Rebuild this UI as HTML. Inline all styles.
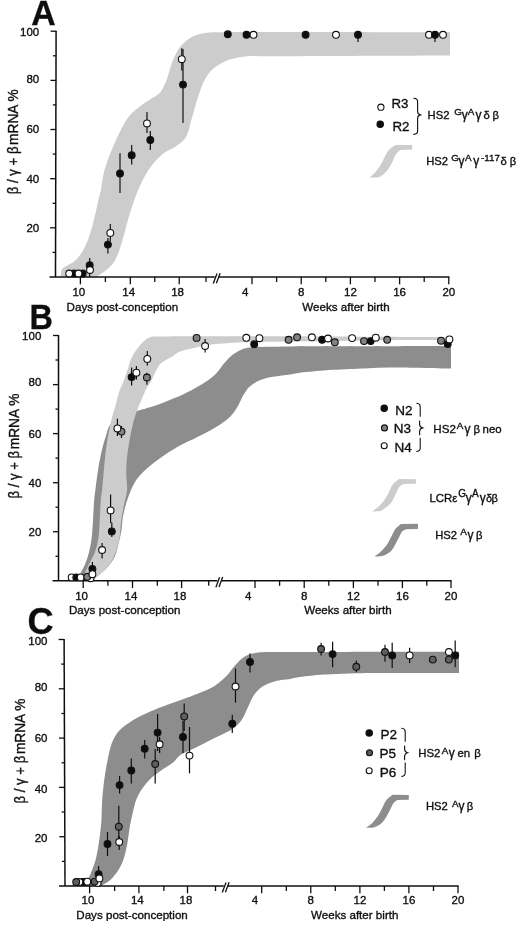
<!DOCTYPE html>
<html lang="en"><head><meta charset="utf-8"><title>Figure</title>
<style>
html,body{margin:0;padding:0;background:#fff;}
body{width:520px;height:926px;overflow:hidden;}
svg{display:block;}
svg text{font-family:"Liberation Sans",Arial,Helvetica,sans-serif;fill:#111;stroke:#111;stroke-width:0.35px;}
</style></head><body>
<svg width="520" height="926" viewBox="0 0 520 926">
<defs><filter id="soft" x="0" y="0" width="520" height="926" filterUnits="userSpaceOnUse"><feGaussianBlur stdDeviation="0.42"/></filter></defs>
<rect width="520" height="926" fill="#fff"/>
<g filter="url(#soft)">
<path d="M60.6 276.8 C60.8 275.6 60.8 271.3 61.9 269.4 C63.0 267.5 65.5 266.8 67.3 265.6 C69.1 264.4 72.8 262.7 75.0 260.8 C77.2 258.9 79.1 256.5 80.8 254.0 C82.5 251.5 84.2 248.4 85.6 245.4 C87.0 242.4 88.3 239.0 89.4 235.8 C90.5 232.6 91.4 229.4 92.3 226.2 C93.2 223.0 94.3 218.5 95.2 214.6 C96.1 210.7 97.2 205.1 98.1 201.2 C99.0 197.3 100.2 193.5 101.0 189.6 C101.8 185.7 102.7 176.7 104.4 170.4 C106.1 164.1 108.6 157.5 111.2 151.2 C113.8 144.9 118.0 135.4 120.8 130.0 C123.6 124.6 127.2 118.4 130.4 114.6 C133.6 110.8 138.2 107.8 141.9 105.0 C145.6 102.2 151.1 99.0 153.5 97.3 C155.9 95.6 158.8 94.3 160.6 91.9 C162.4 89.5 165.2 83.6 166.9 79.2 C168.6 74.8 170.1 67.4 172.2 62.3 C174.3 57.2 176.8 51.3 179.6 47.5 C182.4 43.7 187.0 40.1 190.2 38.0 C193.4 35.9 197.1 34.7 200.8 33.8 C204.5 32.9 209.2 32.4 213.5 32.3 C217.8 32.2 244.5 32.0 260.0 32.0 C275.5 32.0 418.3 32.2 450.0 32.2 L450.0 55.4 C418.3 55.5 264.9 56.2 260.0 56.2 C255.1 56.2 250.1 55.9 245.2 56.4 C240.3 56.9 234.9 57.8 230.4 59.3 C225.9 60.8 220.9 63.5 217.7 65.5 C214.5 67.5 211.6 70.0 209.2 72.9 C206.8 75.8 204.6 79.8 202.9 83.5 C201.2 87.2 199.2 93.4 197.6 98.3 C196.0 103.2 194.4 109.7 193.4 113.1 C192.4 116.5 191.1 120.8 190.4 123.3 C189.7 125.8 189.4 128.5 188.5 131.0 C187.6 133.5 186.3 137.2 184.2 139.6 C182.1 142.0 177.9 145.1 174.6 147.3 C171.3 149.5 167.2 150.6 164.0 153.0 C160.8 155.4 156.4 159.6 153.3 163.5 C150.2 167.4 146.3 173.2 143.5 178.5 C140.7 183.8 138.0 190.1 135.8 195.8 C133.6 201.5 131.8 207.4 130.0 213.1 C128.2 218.8 126.2 226.7 125.2 230.4 C124.2 234.1 123.2 237.8 122.1 241.5 C121.0 245.2 119.7 249.7 118.3 253.0 C116.9 256.3 115.6 259.8 113.5 262.7 C111.4 265.6 108.6 268.1 105.8 270.4 C103.0 272.7 97.8 275.7 96.2 276.8 Z" fill="#cccccc"/>
<path d="M56.1 30.7 L55.5 277.0" stroke="#111" stroke-width="1.5" fill="none"/>
<path d="M49.5 277.0 H449.4" stroke="#111" stroke-width="1.5" fill="none"/>
<path d="M52.6 252.4 H55.6" stroke="#111" stroke-width="1.3"/>
<path d="M50.1 227.8 H55.6" stroke="#111" stroke-width="1.3"/>
<text x="39.2" y="232.1" font-size="11.5" text-anchor="end" font-weight="normal" >20</text>
<path d="M52.7 203.3 H55.7" stroke="#111" stroke-width="1.3"/>
<path d="M50.2 178.7 H55.7" stroke="#111" stroke-width="1.3"/>
<text x="39.2" y="182.8" font-size="11.5" text-anchor="end" font-weight="normal" >40</text>
<path d="M52.8 154.1 H55.8" stroke="#111" stroke-width="1.3"/>
<path d="M50.4 129.5 H55.9" stroke="#111" stroke-width="1.3"/>
<text x="39.2" y="133.2" font-size="11.5" text-anchor="end" font-weight="normal" >60</text>
<path d="M52.9 104.9 H55.9" stroke="#111" stroke-width="1.3"/>
<path d="M50.5 80.4 H56.0" stroke="#111" stroke-width="1.3"/>
<text x="39.2" y="82.6" font-size="11.5" text-anchor="end" font-weight="normal" >80</text>
<path d="M53.0 55.8 H56.0" stroke="#111" stroke-width="1.3"/>
<path d="M50.6 31.2 H56.1" stroke="#111" stroke-width="1.3"/>
<text x="39.2" y="35.8" font-size="11.5" text-anchor="end" font-weight="normal" >100</text>
<path d="M80.4 277.0 V284.3" stroke="#111" stroke-width="1.3"/>
<text x="78.8" y="295.8" font-size="11.5" text-anchor="middle" font-weight="normal" >10</text>
<path d="M105.4 277.0 V282.0" stroke="#111" stroke-width="1.3"/>
<path d="M130.3 277.0 V284.3" stroke="#111" stroke-width="1.3"/>
<text x="128.7" y="295.8" font-size="11.5" text-anchor="middle" font-weight="normal" >14</text>
<path d="M154.8 277.0 V282.0" stroke="#111" stroke-width="1.3"/>
<path d="M179.2 277.0 V284.3" stroke="#111" stroke-width="1.3"/>
<text x="177.6" y="295.8" font-size="11.5" text-anchor="middle" font-weight="normal" >18</text>
<path d="M206.0 277.0 V282.0" stroke="#111" stroke-width="1.3"/>
<path d="M252.0 277.0 V284.3" stroke="#111" stroke-width="1.3"/>
<text x="245.3" y="295.8" font-size="11.5" text-anchor="middle" font-weight="normal" >4</text>
<path d="M276.6 277.0 V282.0" stroke="#111" stroke-width="1.3"/>
<path d="M301.2 277.0 V284.3" stroke="#111" stroke-width="1.3"/>
<text x="301.2" y="295.8" font-size="11.5" text-anchor="middle" font-weight="normal" >8</text>
<path d="M325.8 277.0 V282.0" stroke="#111" stroke-width="1.3"/>
<path d="M350.4 277.0 V284.3" stroke="#111" stroke-width="1.3"/>
<text x="350.4" y="295.8" font-size="11.5" text-anchor="middle" font-weight="normal" >12</text>
<path d="M375.0 277.0 V282.0" stroke="#111" stroke-width="1.3"/>
<path d="M399.6 277.0 V284.3" stroke="#111" stroke-width="1.3"/>
<text x="399.6" y="295.8" font-size="11.5" text-anchor="middle" font-weight="normal" >16</text>
<path d="M424.2 277.0 V282.0" stroke="#111" stroke-width="1.3"/>
<path d="M448.8 277.0 V284.3" stroke="#111" stroke-width="1.3"/>
<text x="448.8" y="295.8" font-size="11.5" text-anchor="middle" font-weight="normal" >20</text>
<rect x="214.8" y="275.5" width="4" height="3" fill="#fff"/>
<path d="M213.3 283.4 l3.7 -9.9 M216.4 283.2 l3.7 -9.9" stroke="#111" stroke-width="1.3" fill="none"/>
<text x="66.6" y="310.9" font-size="11.6" text-anchor="start" font-weight="normal" >Days post-conception</text>
<text x="302.3" y="310.9" font-size="11.6" text-anchor="start" font-weight="normal" >Weeks after birth</text>
<text transform="translate(31.3 24.8) scale(0.940 1)" font-size="36" font-weight="bold" stroke-width="0">A</text>
<text transform="translate(17.6 194.3) rotate(-90) scale(1 1.06)" font-size="13.7"><tspan font-size="13.2">β / γ + β</tspan><tspan dx="-2.2"> mRNA %</tspan></text>
<line x1="89.7" y1="258.0" x2="89.7" y2="277.0" stroke="#111" stroke-width="1.2"/>
<line x1="107.9" y1="238.0" x2="107.9" y2="253.5" stroke="#111" stroke-width="1.2"/>
<line x1="110.3" y1="224.0" x2="110.3" y2="241.0" stroke="#111" stroke-width="1.2"/>
<line x1="120.0" y1="153.3" x2="120.0" y2="192.9" stroke="#111" stroke-width="1.2"/>
<line x1="131.7" y1="145.0" x2="131.7" y2="164.6" stroke="#111" stroke-width="1.2"/>
<line x1="147.0" y1="112.0" x2="147.0" y2="133.0" stroke="#111" stroke-width="1.2"/>
<line x1="150.3" y1="131.0" x2="150.3" y2="150.0" stroke="#111" stroke-width="1.2"/>
<line x1="181.8" y1="48.3" x2="181.8" y2="70.5" stroke="#111" stroke-width="1.2"/>
<line x1="183.0" y1="49.0" x2="183.0" y2="123.0" stroke="#111" stroke-width="1.2"/>
<line x1="358.0" y1="34.0" x2="358.0" y2="42.0" stroke="#111" stroke-width="1.2"/>
<line x1="435.0" y1="34.0" x2="435.0" y2="42.0" stroke="#111" stroke-width="1.2"/>
<circle cx="74.2" cy="273.5" r="3.4" fill="#111" stroke="#111" stroke-width="1.1"/>
<circle cx="82.7" cy="273.5" r="3.4" fill="#111" stroke="#111" stroke-width="1.1"/>
<circle cx="69.2" cy="273.5" r="3.4" fill="#fff" stroke="#111" stroke-width="1.1"/>
<circle cx="78.5" cy="273.5" r="3.4" fill="#fff" stroke="#111" stroke-width="1.1"/>
<circle cx="89.7" cy="265.2" r="3.4" fill="#111" stroke="#111" stroke-width="1.1"/>
<circle cx="90.0" cy="270.0" r="3.4" fill="#fff" stroke="#111" stroke-width="1.1"/>
<circle cx="107.9" cy="244.6" r="3.4" fill="#111" stroke="#111" stroke-width="1.1"/>
<circle cx="110.3" cy="232.9" r="3.4" fill="#fff" stroke="#111" stroke-width="1.1"/>
<circle cx="120.0" cy="173.5" r="3.4" fill="#111" stroke="#111" stroke-width="1.1"/>
<circle cx="131.7" cy="155.3" r="3.4" fill="#111" stroke="#111" stroke-width="1.1"/>
<circle cx="147.0" cy="123.4" r="3.4" fill="#fff" stroke="#111" stroke-width="1.1"/>
<circle cx="150.3" cy="140.0" r="3.4" fill="#111" stroke="#111" stroke-width="1.1"/>
<circle cx="183.0" cy="84.6" r="3.4" fill="#111" stroke="#111" stroke-width="1.1"/>
<circle cx="181.8" cy="59.2" r="3.4" fill="#fff" stroke="#111" stroke-width="1.1"/>
<circle cx="227.8" cy="34.3" r="3.4" fill="#111" stroke="#111" stroke-width="1.1"/>
<circle cx="246.5" cy="34.8" r="3.4" fill="#111" stroke="#111" stroke-width="1.1"/>
<circle cx="253.5" cy="34.8" r="3.4" fill="#fff" stroke="#111" stroke-width="1.1"/>
<circle cx="305.6" cy="34.8" r="3.4" fill="#111" stroke="#111" stroke-width="1.1"/>
<circle cx="336.0" cy="34.8" r="3.4" fill="#fff" stroke="#111" stroke-width="1.1"/>
<circle cx="358.0" cy="34.8" r="3.4" fill="#111" stroke="#111" stroke-width="1.1"/>
<circle cx="429.0" cy="34.8" r="3.4" fill="#fff" stroke="#111" stroke-width="1.1"/>
<circle cx="443.0" cy="34.8" r="3.4" fill="#fff" stroke="#111" stroke-width="1.1"/>
<circle cx="435.0" cy="34.8" r="3.4" fill="#111" stroke="#111" stroke-width="1.1"/>
<circle cx="380.9" cy="107.2" r="3.1" fill="#fff" stroke="#111" stroke-width="1.1"/>
<circle cx="380.2" cy="124.3" r="3.2" fill="#111" stroke="#111" stroke-width="1.1"/>
<text x="391.4" y="108.3" font-size="13.3" text-anchor="start" font-weight="normal" >R3</text>
<text x="392.5" y="130.5" font-size="13.3" text-anchor="start" font-weight="normal" >R2</text>
<path d="M413.8 98.3 q3.8 0.3 3.8 3.2 V111.5 q0 2.6 2.7 3.4 q-2.7 0.8 -2.7 3.4 V131.2 q0 2.8 -3.8 3.2" stroke="#111" stroke-width="1.1" fill="none" stroke-linecap="round"/>
<text x="427.6" y="118.5" font-size="11.2" text-anchor="start" font-weight="normal" >HS2</text>
<text x="454.2" y="114.6" font-size="9.8" text-anchor="start" font-weight="normal" >G</text>
<text x="461.8" y="118.5" font-size="12" text-anchor="start" font-weight="normal" >γ</text>
<text x="467.8" y="114.6" font-size="9.8" text-anchor="start" font-weight="normal" >A</text>
<text x="475.6" y="118.5" font-size="12" text-anchor="start" font-weight="normal" >γ</text>
<text x="483.4" y="118.5" font-size="11.2" text-anchor="start" font-weight="normal" >δ</text>
<text x="492.6" y="118.5" font-size="11.2" text-anchor="start" font-weight="normal" >β</text>
<path d="M370.1 177.2 C371.0 176.3 373.9 173.9 375.5 172.0 C377.1 170.1 379.3 167.2 380.9 164.6 C382.5 162.0 384.2 157.6 385.6 155.2 C387.0 152.8 388.8 150.0 390.3 148.5 C391.8 147.0 394.8 145.5 395.7 144.9 L412.2 145.1 L412.2 149.6 L400.4 150.1 C399.7 150.7 397.3 152.3 396.3 153.8 C395.3 155.3 393.7 159.2 392.3 161.9 C390.9 164.6 388.9 168.2 387.6 170.0 C386.3 171.8 384.5 173.5 382.9 174.7 C381.3 175.9 379.5 177.0 377.5 177.4 C375.5 177.8 371.3 177.4 370.1 177.4 Z" fill="#cccccc"/>
<text x="426.2" y="164.6" font-size="11.2" text-anchor="start" font-weight="normal" >HS2</text>
<text x="451.3" y="161.3" font-size="9.8" text-anchor="start" font-weight="normal" >G</text>
<text x="458.6" y="164.6" font-size="12" text-anchor="start" font-weight="normal" >γ</text>
<text x="465.0" y="161.3" font-size="9.8" text-anchor="start" font-weight="normal" >A</text>
<text x="473.3" y="164.6" font-size="12" text-anchor="start" font-weight="normal" >γ</text>
<text x="481.0" y="161.3" font-size="9.8" text-anchor="start" font-weight="normal" >-117</text>
<text x="500.4" y="164.6" font-size="11.2" text-anchor="start" font-weight="normal" >δ</text>
<text x="509.7" y="164.6" font-size="11.2" text-anchor="start" font-weight="normal" >β</text>
<path d="M79.5 580.5 C79.6 579.5 79.5 576.2 80.2 574.2 C80.9 572.2 83.6 567.9 85.0 564.6 C86.4 561.3 87.8 557.0 88.8 553.1 C89.8 549.2 91.1 542.9 91.7 537.7 C92.3 532.5 92.7 524.9 93.1 518.5 C93.5 512.1 94.0 502.3 94.2 499.2 C94.4 496.1 95.0 493.1 95.4 490.0 C95.8 486.9 97.2 475.0 98.3 468.5 C99.4 462.0 101.0 453.7 102.1 449.2 C103.2 444.7 104.8 439.4 106.0 435.8 C107.2 432.2 107.5 427.9 110.0 425.0 C112.5 422.1 121.1 416.0 125.0 414.0 C128.9 412.0 133.5 412.0 137.7 410.8 C141.9 409.6 152.0 406.7 157.1 405.0 C162.2 403.3 169.3 400.1 172.0 399.0 C174.7 397.9 177.4 397.1 180.0 395.9 C182.6 394.7 188.5 391.8 192.7 389.5 C196.9 387.2 201.7 384.6 205.4 382.1 C209.1 379.6 212.8 376.9 216.0 373.7 C219.2 370.5 221.7 366.1 224.4 363.1 C227.1 360.1 229.7 357.0 232.9 354.6 C236.1 352.2 239.7 350.0 243.5 348.7 C247.3 347.4 251.9 347.2 256.2 347.0 C260.5 346.8 278.7 346.5 290.0 346.4 C301.3 346.3 424.2 346.1 451.0 346.0 L451.0 368.6 C440.8 368.4 398.5 367.5 390.0 367.5 C381.5 367.5 373.1 368.1 364.6 368.4 C356.1 368.7 343.5 369.1 332.9 369.8 C322.3 370.5 305.0 372.2 301.2 372.6 C297.4 373.0 293.7 373.9 290.0 374.5 C286.3 375.1 277.4 376.0 273.1 376.8 C268.8 377.6 264.2 378.4 260.4 380.0 C256.6 381.6 252.4 384.1 249.8 386.4 C247.2 388.7 245.3 391.8 243.5 394.8 C241.7 397.8 240.2 402.0 238.2 405.4 C236.2 408.8 233.8 412.9 230.8 416.0 C227.8 419.1 224.0 421.9 220.2 424.4 C216.4 426.9 210.3 430.3 205.4 432.9 C200.5 435.5 194.1 438.6 190.6 440.3 C187.1 442.0 183.4 443.6 180.0 445.5 C176.6 447.4 169.6 451.6 164.6 455.0 C159.6 458.4 153.3 463.0 149.2 466.5 C145.1 470.0 140.5 474.4 137.7 478.0 C134.9 481.6 132.9 485.8 131.0 490.0 C129.1 494.2 127.6 498.7 126.3 503.0 C125.0 507.3 123.8 511.6 123.0 516.0 C122.2 520.4 122.2 525.6 121.5 530.0 C120.8 534.4 119.8 538.7 118.7 543.0 C117.6 547.3 116.6 552.8 114.6 557.0 C112.6 561.2 109.5 565.0 106.5 568.3 C103.5 571.6 98.2 575.6 96.4 577.0 C94.6 578.4 91.4 579.9 90.4 580.5 Z" fill="#8d8d8d"/>
<path d="M62.0 580.5 C64.3 580.2 73.5 579.5 76.0 579.0 C78.5 578.5 81.4 578.1 83.1 576.2 C84.8 574.3 86.9 568.4 88.8 564.6 C90.7 560.8 93.1 557.1 94.6 553.1 C96.1 549.1 97.7 542.9 98.5 537.7 C99.3 532.5 99.4 524.9 99.8 518.5 C100.2 512.1 100.6 502.3 100.8 499.2 C101.0 496.1 101.8 493.1 102.1 490.0 C102.4 486.9 103.4 474.9 104.0 468.5 C104.6 462.1 105.2 455.0 106.0 449.2 C106.8 443.4 108.0 436.5 108.8 432.0 C109.6 427.5 110.6 423.0 111.7 418.5 C112.8 414.0 114.7 408.3 115.9 404.0 C117.1 399.7 118.4 394.1 119.4 391.0 C120.4 387.9 122.1 385.1 123.3 382.0 C124.5 378.9 126.1 374.0 127.5 370.0 C128.9 366.0 129.8 361.5 131.7 357.5 C133.6 353.5 137.4 348.4 139.1 346.2 C140.8 344.0 143.3 341.7 145.0 340.3 C146.7 338.9 148.8 337.6 150.8 337.0 C152.8 336.4 154.9 336.6 157.0 336.5 C159.1 336.4 165.7 336.4 170.0 336.4 C174.3 336.4 196.7 336.3 210.0 336.3 C223.3 336.3 263.3 336.1 290.0 336.2 C316.7 336.3 423.3 337.0 450.0 337.2 L450.0 340.2 C440.0 340.2 410.0 340.0 390.0 340.2 C370.0 340.4 305.5 341.3 290.0 341.5 C274.5 341.7 250.6 342.1 243.5 342.3 C236.4 342.5 227.2 343.2 222.3 343.6 C217.4 344.0 212.4 344.2 207.5 345.0 C202.6 345.8 197.0 347.3 192.7 348.3 C188.4 349.3 182.9 350.4 180.0 351.6 C177.1 352.8 174.7 355.0 172.0 356.7 C169.3 358.4 164.1 360.4 161.3 363.1 C158.5 365.8 156.6 370.1 155.0 373.0 C153.4 375.9 151.8 380.3 150.8 382.1 C149.8 383.9 148.3 385.2 147.3 387.0 C146.3 388.8 144.0 393.8 142.5 397.3 C141.0 400.8 139.1 405.0 137.7 408.8 C136.3 412.6 134.9 416.5 133.8 420.4 C132.7 424.3 131.1 431.9 130.0 437.7 C128.9 443.5 127.7 451.9 127.1 457.0 C126.5 462.1 126.2 467.2 126.2 472.3 C126.2 477.4 127.4 485.5 127.1 490.0 C126.8 494.5 125.3 498.7 124.4 503.1 C123.5 507.5 122.2 513.3 121.5 518.5 C120.8 523.7 120.2 533.8 119.6 537.7 C119.0 541.6 118.0 545.4 116.7 549.2 C115.4 553.0 114.0 557.3 111.9 560.8 C109.8 564.3 107.1 567.5 104.2 570.4 C101.3 573.3 95.2 578.0 93.7 579.0 C92.2 580.0 89.3 580.2 88.4 580.5 Z" fill="#cccccc"/>
<path d="M58.5 335.0 L58.5 580.8" stroke="#111" stroke-width="1.5" fill="none"/>
<path d="M52.5 580.8 H451.6" stroke="#111" stroke-width="1.5" fill="none"/>
<path d="M55.5 556.3 H58.5" stroke="#111" stroke-width="1.3"/>
<path d="M53.0 531.7 H58.5" stroke="#111" stroke-width="1.3"/>
<text x="41.3" y="535.8" font-size="11.5" text-anchor="end" font-weight="normal" >20</text>
<path d="M55.5 507.2 H58.5" stroke="#111" stroke-width="1.3"/>
<path d="M53.0 482.7 H58.5" stroke="#111" stroke-width="1.3"/>
<text x="41.3" y="486.8" font-size="11.5" text-anchor="end" font-weight="normal" >40</text>
<path d="M55.5 458.1 H58.5" stroke="#111" stroke-width="1.3"/>
<path d="M53.0 433.6 H58.5" stroke="#111" stroke-width="1.3"/>
<text x="41.3" y="437.8" font-size="11.5" text-anchor="end" font-weight="normal" >60</text>
<path d="M55.5 409.1 H58.5" stroke="#111" stroke-width="1.3"/>
<path d="M53.0 384.6 H58.5" stroke="#111" stroke-width="1.3"/>
<text x="41.3" y="386.2" font-size="11.5" text-anchor="end" font-weight="normal" >80</text>
<path d="M55.5 360.0 H58.5" stroke="#111" stroke-width="1.3"/>
<path d="M53.0 335.5 H58.5" stroke="#111" stroke-width="1.3"/>
<text x="41.3" y="339.9" font-size="11.5" text-anchor="end" font-weight="normal" >100</text>
<path d="M83.2 580.8 V588.1" stroke="#111" stroke-width="1.3"/>
<text x="81.6" y="599.5" font-size="11.5" text-anchor="middle" font-weight="normal" >10</text>
<path d="M107.9 580.8 V585.8" stroke="#111" stroke-width="1.3"/>
<path d="M132.5 580.8 V588.1" stroke="#111" stroke-width="1.3"/>
<text x="130.9" y="599.5" font-size="11.5" text-anchor="middle" font-weight="normal" >14</text>
<path d="M157.3 580.8 V585.8" stroke="#111" stroke-width="1.3"/>
<path d="M181.6 580.8 V588.1" stroke="#111" stroke-width="1.3"/>
<text x="180.0" y="599.5" font-size="11.5" text-anchor="middle" font-weight="normal" >18</text>
<path d="M208.7 580.8 V585.8" stroke="#111" stroke-width="1.3"/>
<path d="M255.0 580.8 V588.1" stroke="#111" stroke-width="1.3"/>
<text x="248.3" y="599.5" font-size="11.5" text-anchor="middle" font-weight="normal" >4</text>
<path d="M279.6 580.8 V585.8" stroke="#111" stroke-width="1.3"/>
<path d="M304.2 580.8 V588.1" stroke="#111" stroke-width="1.3"/>
<text x="304.2" y="599.5" font-size="11.5" text-anchor="middle" font-weight="normal" >8</text>
<path d="M328.8 580.8 V585.8" stroke="#111" stroke-width="1.3"/>
<path d="M353.4 580.8 V588.1" stroke="#111" stroke-width="1.3"/>
<text x="353.4" y="599.5" font-size="11.5" text-anchor="middle" font-weight="normal" >12</text>
<path d="M378.0 580.8 V585.8" stroke="#111" stroke-width="1.3"/>
<path d="M402.4 580.8 V588.1" stroke="#111" stroke-width="1.3"/>
<text x="402.4" y="599.5" font-size="11.5" text-anchor="middle" font-weight="normal" >16</text>
<path d="M426.8 580.8 V585.8" stroke="#111" stroke-width="1.3"/>
<path d="M451.0 580.8 V588.1" stroke="#111" stroke-width="1.3"/>
<text x="451.0" y="599.5" font-size="11.5" text-anchor="middle" font-weight="normal" >20</text>
<rect x="217.4" y="579.3" width="4" height="3" fill="#fff"/>
<path d="M215.9 587.2 l3.7 -9.9 M219.0 587.0 l3.7 -9.9" stroke="#111" stroke-width="1.3" fill="none"/>
<text x="69.0" y="614.3" font-size="11.6" text-anchor="start" font-weight="normal" >Days post-conception</text>
<text x="304.2" y="614.3" font-size="11.6" text-anchor="start" font-weight="normal" >Weeks after birth</text>
<text transform="translate(29.4 328.8) scale(0.900 1)" font-size="36" font-weight="bold" stroke-width="0">B</text>
<text transform="translate(19.2 498.6) rotate(-90) scale(1 1.06)" font-size="13.7"><tspan font-size="13.2">β / γ + β</tspan><tspan dx="-2.2"> mRNA %</tspan></text>
<line x1="92.4" y1="562.0" x2="92.4" y2="580.0" stroke="#111" stroke-width="1.2"/>
<line x1="102.1" y1="543.0" x2="102.1" y2="558.4" stroke="#111" stroke-width="1.2"/>
<line x1="110.6" y1="494.6" x2="110.6" y2="523.0" stroke="#111" stroke-width="1.2"/>
<line x1="111.8" y1="522.5" x2="111.8" y2="537.0" stroke="#111" stroke-width="1.2"/>
<line x1="117.4" y1="418.7" x2="117.4" y2="436.0" stroke="#111" stroke-width="1.2"/>
<line x1="121.5" y1="426.0" x2="121.5" y2="438.0" stroke="#111" stroke-width="1.2"/>
<line x1="131.6" y1="367.4" x2="131.6" y2="385.6" stroke="#111" stroke-width="1.2"/>
<line x1="136.4" y1="366.0" x2="136.4" y2="379.5" stroke="#111" stroke-width="1.2"/>
<line x1="147.3" y1="351.0" x2="147.3" y2="365.4" stroke="#111" stroke-width="1.2"/>
<line x1="146.9" y1="372.7" x2="146.9" y2="384.8" stroke="#111" stroke-width="1.2"/>
<line x1="205.1" y1="339.0" x2="205.1" y2="352.5" stroke="#111" stroke-width="1.2"/>
<circle cx="71.7" cy="577.4" r="3.4" fill="#fff" stroke="#111" stroke-width="1.1"/>
<circle cx="76.3" cy="577.4" r="3.4" fill="#111" stroke="#111" stroke-width="1.1"/>
<circle cx="80.7" cy="577.4" r="3.4" fill="#fff" stroke="#111" stroke-width="1.1"/>
<circle cx="90.6" cy="578.2" r="3.4" fill="#fff" stroke="#111" stroke-width="1.1"/>
<circle cx="87.3" cy="576.8" r="3.4" fill="#828282" stroke="#111" stroke-width="1.1"/>
<circle cx="92.4" cy="569.0" r="3.4" fill="#111" stroke="#111" stroke-width="1.1"/>
<circle cx="92.4" cy="574.2" r="3.4" fill="#fff" stroke="#111" stroke-width="1.1"/>
<circle cx="102.1" cy="550.0" r="3.4" fill="#fff" stroke="#111" stroke-width="1.1"/>
<circle cx="111.8" cy="531.4" r="3.4" fill="#111" stroke="#111" stroke-width="1.1"/>
<circle cx="110.6" cy="510.4" r="3.4" fill="#fff" stroke="#111" stroke-width="1.1"/>
<circle cx="121.5" cy="431.6" r="3.4" fill="#828282" stroke="#111" stroke-width="1.1"/>
<circle cx="117.4" cy="428.4" r="3.4" fill="#fff" stroke="#111" stroke-width="1.1"/>
<circle cx="131.6" cy="377.1" r="3.4" fill="#111" stroke="#111" stroke-width="1.1"/>
<circle cx="136.4" cy="372.7" r="3.4" fill="#fff" stroke="#111" stroke-width="1.1"/>
<circle cx="146.9" cy="377.5" r="3.4" fill="#828282" stroke="#111" stroke-width="1.1"/>
<circle cx="147.3" cy="358.9" r="3.4" fill="#fff" stroke="#111" stroke-width="1.1"/>
<circle cx="196.6" cy="337.9" r="3.4" fill="#828282" stroke="#111" stroke-width="1.1"/>
<circle cx="205.1" cy="346.0" r="3.4" fill="#fff" stroke="#111" stroke-width="1.1"/>
<circle cx="246.3" cy="337.8" r="3.4" fill="#fff" stroke="#111" stroke-width="1.1"/>
<circle cx="254.2" cy="344.3" r="3.4" fill="#111" stroke="#111" stroke-width="1.1"/>
<circle cx="259.4" cy="338.2" r="3.4" fill="#fff" stroke="#111" stroke-width="1.1"/>
<circle cx="288.6" cy="339.8" r="3.4" fill="#828282" stroke="#111" stroke-width="1.1"/>
<circle cx="297.1" cy="337.3" r="3.4" fill="#828282" stroke="#111" stroke-width="1.1"/>
<circle cx="311.9" cy="337.3" r="3.4" fill="#fff" stroke="#111" stroke-width="1.1"/>
<circle cx="322.1" cy="339.8" r="3.4" fill="#111" stroke="#111" stroke-width="1.1"/>
<circle cx="328.0" cy="338.5" r="3.4" fill="#fff" stroke="#111" stroke-width="1.1"/>
<circle cx="334.8" cy="342.3" r="3.4" fill="#828282" stroke="#111" stroke-width="1.1"/>
<circle cx="352.1" cy="338.1" r="3.4" fill="#fff" stroke="#111" stroke-width="1.1"/>
<circle cx="364.0" cy="341.1" r="3.4" fill="#828282" stroke="#111" stroke-width="1.1"/>
<circle cx="370.7" cy="341.1" r="3.4" fill="#111" stroke="#111" stroke-width="1.1"/>
<circle cx="375.8" cy="337.7" r="3.4" fill="#fff" stroke="#111" stroke-width="1.1"/>
<circle cx="387.2" cy="339.8" r="3.4" fill="#828282" stroke="#111" stroke-width="1.1"/>
<circle cx="441.0" cy="340.7" r="3.4" fill="#828282" stroke="#111" stroke-width="1.1"/>
<circle cx="447.7" cy="344.0" r="3.4" fill="#111" stroke="#111" stroke-width="1.1"/>
<circle cx="449.4" cy="339.4" r="3.4" fill="#fff" stroke="#111" stroke-width="1.1"/>
<circle cx="384.2" cy="408.3" r="3.2" fill="#111" stroke="#111" stroke-width="1.1"/>
<circle cx="384.5" cy="427.9" r="3.0" fill="#828282" stroke="#111" stroke-width="1.1"/>
<circle cx="384.2" cy="445.8" r="3.0" fill="#fff" stroke="#111" stroke-width="1.1"/>
<text x="395.3" y="414.6" font-size="13.5" text-anchor="start" font-weight="normal" >N2</text>
<text x="393.8" y="433.1" font-size="13.5" text-anchor="start" font-weight="normal" >N3</text>
<text x="394.5" y="451.5" font-size="13.5" text-anchor="start" font-weight="normal" >N4</text>
<path d="M416.8 403.3 Q420.2 403.6 420.2 406.7 V416.3" stroke="#111" stroke-width="1.1" fill="none" stroke-linecap="round"/>
<path d="M419.6 421.0 V424.3 Q419.6 427.1 422.5 427.9 Q419.6 428.7 419.6 431.5 V434.8" stroke="#111" stroke-width="1.1" fill="none" stroke-linecap="round"/>
<path d="M420.2 438.3 V448.1 Q420.2 451.2 416.8 451.5" stroke="#111" stroke-width="1.1" fill="none" stroke-linecap="round"/>
<text x="433.3" y="433.0" font-size="11.6" text-anchor="start" font-weight="normal" >HS2</text>
<text x="456.8" y="429.1" font-size="9.9" text-anchor="start" font-weight="normal" >A</text>
<text x="464.4" y="433.0" font-size="12" text-anchor="start" font-weight="normal" >γ</text>
<text x="473.4" y="433.0" font-size="11.4" text-anchor="start" font-weight="normal" >β</text>
<text x="482.6" y="433.0" font-size="11.4" text-anchor="start" font-weight="normal" >neo</text>
<path d="M372.8 511.2 C373.8 510.4 376.9 508.1 378.8 506.3 C380.7 504.5 382.6 502.5 384.2 500.3 C385.8 498.1 387.5 494.9 388.9 492.2 C390.3 489.5 391.4 486.2 393.0 484.1 C394.6 482.0 398.0 479.8 399.0 478.9 L415.9 479.2 L415.9 483.8 L403.1 484.1 C402.4 484.7 400.0 486.1 399.0 487.5 C398.0 488.9 396.8 492.0 395.7 494.2 C394.6 496.4 392.4 501.1 391.0 503.0 C389.6 504.9 387.3 506.4 385.6 507.7 C383.9 509.0 382.2 510.4 380.2 511.0 C378.2 511.6 374.0 511.3 372.8 511.4 Z" fill="#cccccc"/>
<text x="429.4" y="501.5" font-size="11.4" text-anchor="start" font-weight="normal" >LCRε</text>
<text x="458.2" y="497.0" font-size="10" text-anchor="start" font-weight="normal" >G</text>
<text x="465.8" y="501.5" font-size="12" text-anchor="start" font-weight="normal" >γ</text>
<text x="472.1" y="497.0" font-size="10" text-anchor="start" font-weight="normal" >A</text>
<text x="479.8" y="501.5" font-size="12" text-anchor="start" font-weight="normal" >γ</text>
<text x="486.0" y="501.5" font-size="11" text-anchor="start" font-weight="normal" >δ</text>
<text x="491.6" y="501.5" font-size="11" text-anchor="start" font-weight="normal" >β</text>
<path d="M374.8 556.2 C375.8 555.4 379.0 553.2 380.9 551.4 C382.8 549.6 385.2 547.2 386.9 544.7 C388.6 542.2 390.2 538.5 391.6 536.0 C393.0 533.5 394.3 530.3 395.7 528.5 C397.1 526.7 400.1 524.7 401.0 523.9 L417.9 523.8 L417.9 529.0 L405.8 529.2 C405.1 529.7 402.7 530.6 401.7 531.9 C400.7 533.2 399.6 536.4 398.4 538.6 C397.2 540.8 394.9 545.4 393.6 547.4 C392.3 549.4 390.8 551.4 388.9 552.8 C387.0 554.2 384.5 555.5 382.2 556.1 C379.9 556.7 376.0 556.4 374.8 556.5 Z" fill="#8d8d8d"/>
<text x="435.2" y="538.7" font-size="11.2" text-anchor="start" font-weight="normal" >HS2</text>
<text x="460.2" y="534.8" font-size="9.9" text-anchor="start" font-weight="normal" >A</text>
<text x="467.5" y="538.7" font-size="12" text-anchor="start" font-weight="normal" >γ</text>
<text x="475.9" y="538.7" font-size="11.2" text-anchor="start" font-weight="normal" >β</text>
<path d="M66.0 885.8 C68.3 885.5 77.2 884.6 80.0 883.8 C82.8 883.0 85.5 881.5 87.5 879.4 C89.5 877.3 90.5 873.9 91.7 871.0 C92.9 868.1 94.9 862.6 96.0 858.3 C97.1 854.0 98.3 847.0 99.1 841.3 C99.9 835.6 100.8 828.7 101.3 822.3 C101.8 815.9 101.7 806.9 102.2 800.0 C102.7 793.1 103.4 785.8 104.3 779.4 C105.2 773.0 106.3 766.1 107.5 760.4 C108.7 754.7 109.9 748.1 111.7 743.5 C113.5 738.9 115.8 734.4 119.1 730.8 C122.4 727.2 128.0 723.3 132.9 720.2 C137.8 717.1 144.0 714.2 149.8 711.7 C155.6 709.2 165.2 705.7 168.9 704.3 C172.6 702.9 176.3 701.7 180.0 700.3 C183.7 698.9 191.3 696.3 196.9 694.0 C202.5 691.7 209.1 689.4 213.8 686.5 C218.5 683.6 223.3 679.2 226.5 676.0 C229.7 672.8 231.9 668.7 235.0 665.4 C238.1 662.1 241.4 658.1 245.6 655.9 C249.8 653.7 255.3 652.6 260.4 652.2 C265.5 651.8 280.1 652.0 290.0 652.0 C299.9 652.0 430.8 651.8 459.0 651.8 L459.0 672.9 C444.4 672.9 387.1 672.8 371.3 673.0 C355.5 673.2 332.3 674.1 323.8 674.6 C315.3 675.1 301.1 676.9 298.3 677.3 C295.5 677.7 292.8 678.6 290.0 679.1 C287.2 679.6 279.6 680.1 275.2 681.3 C270.8 682.5 265.9 684.3 262.5 686.5 C259.1 688.7 256.3 691.7 254.0 695.0 C251.7 698.3 249.8 703.5 247.7 707.7 C245.6 711.9 244.1 716.7 241.3 720.4 C238.5 724.1 234.8 727.4 230.8 729.9 C226.8 732.4 218.0 736.2 211.7 739.4 C205.4 742.6 196.9 746.9 192.7 749.0 C188.5 751.1 182.7 753.4 180.0 755.3 C177.3 757.2 175.7 760.4 173.1 762.5 C170.5 764.6 164.0 768.4 160.4 771.0 C156.8 773.6 153.0 776.2 149.8 779.4 C146.6 782.6 143.4 786.9 141.3 790.0 C139.2 793.1 137.4 796.5 136.1 800.0 C134.8 803.5 133.9 807.8 133.0 811.7 C132.1 815.6 130.7 821.6 129.8 826.5 C128.9 831.4 128.6 836.4 127.7 841.3 C126.8 846.2 125.8 851.8 124.5 856.2 C123.2 860.6 121.5 864.9 119.2 868.8 C116.9 872.7 113.6 876.8 110.8 879.4 C108.0 882.0 102.9 884.7 101.3 885.8 Z" fill="#8d8d8d"/>
<path d="M64.1 639.0 L65.0 886.0" stroke="#111" stroke-width="1.5" fill="none"/>
<path d="M59.0 886.0 H458.6" stroke="#111" stroke-width="1.5" fill="none"/>
<path d="M61.9 861.4 H64.9" stroke="#111" stroke-width="1.3"/>
<path d="M59.3 836.7 H64.8" stroke="#111" stroke-width="1.3"/>
<text x="47.5" y="842.0" font-size="11.5" text-anchor="end" font-weight="normal" >20</text>
<path d="M61.7 812.0 H64.7" stroke="#111" stroke-width="1.3"/>
<path d="M59.1 787.4 H64.6" stroke="#111" stroke-width="1.3"/>
<text x="47.5" y="792.7" font-size="11.5" text-anchor="end" font-weight="normal" >40</text>
<path d="M61.5 762.8 H64.5" stroke="#111" stroke-width="1.3"/>
<path d="M59.0 738.1 H64.5" stroke="#111" stroke-width="1.3"/>
<text x="47.5" y="741.8" font-size="11.5" text-anchor="end" font-weight="normal" >60</text>
<path d="M61.4 713.5 H64.4" stroke="#111" stroke-width="1.3"/>
<path d="M58.8 688.8 H64.3" stroke="#111" stroke-width="1.3"/>
<text x="47.5" y="690.5" font-size="11.5" text-anchor="end" font-weight="normal" >80</text>
<path d="M61.2 664.1 H64.2" stroke="#111" stroke-width="1.3"/>
<path d="M58.6 639.5 H64.1" stroke="#111" stroke-width="1.3"/>
<text x="47.5" y="645.0" font-size="11.5" text-anchor="end" font-weight="normal" >100</text>
<path d="M89.6 886.0 V893.3" stroke="#111" stroke-width="1.3"/>
<text x="88.0" y="904.2" font-size="11.5" text-anchor="middle" font-weight="normal" >10</text>
<path d="M114.6 886.0 V891.0" stroke="#111" stroke-width="1.3"/>
<path d="M138.9 886.0 V893.3" stroke="#111" stroke-width="1.3"/>
<text x="137.3" y="904.2" font-size="11.5" text-anchor="middle" font-weight="normal" >14</text>
<path d="M163.9 886.0 V891.0" stroke="#111" stroke-width="1.3"/>
<path d="M187.5 886.0 V893.3" stroke="#111" stroke-width="1.3"/>
<text x="185.9" y="904.2" font-size="11.5" text-anchor="middle" font-weight="normal" >18</text>
<path d="M215.5 886.0 V891.0" stroke="#111" stroke-width="1.3"/>
<path d="M261.7 886.0 V893.3" stroke="#111" stroke-width="1.3"/>
<text x="255.0" y="904.2" font-size="11.5" text-anchor="middle" font-weight="normal" >4</text>
<path d="M286.3 886.0 V891.0" stroke="#111" stroke-width="1.3"/>
<path d="M310.8 886.0 V893.3" stroke="#111" stroke-width="1.3"/>
<text x="310.8" y="904.2" font-size="11.5" text-anchor="middle" font-weight="normal" >8</text>
<path d="M335.3 886.0 V891.0" stroke="#111" stroke-width="1.3"/>
<path d="M359.9 886.0 V893.3" stroke="#111" stroke-width="1.3"/>
<text x="359.9" y="904.2" font-size="11.5" text-anchor="middle" font-weight="normal" >12</text>
<path d="M384.4 886.0 V891.0" stroke="#111" stroke-width="1.3"/>
<path d="M408.9 886.0 V893.3" stroke="#111" stroke-width="1.3"/>
<text x="408.9" y="904.2" font-size="11.5" text-anchor="middle" font-weight="normal" >16</text>
<path d="M433.5 886.0 V891.0" stroke="#111" stroke-width="1.3"/>
<path d="M458.0 886.0 V893.3" stroke="#111" stroke-width="1.3"/>
<text x="458.0" y="904.2" font-size="11.5" text-anchor="middle" font-weight="normal" >20</text>
<rect x="223.8" y="884.5" width="4" height="3" fill="#fff"/>
<path d="M222.3 892.4 l3.7 -9.9 M225.4 892.2 l3.7 -9.9" stroke="#111" stroke-width="1.3" fill="none"/>
<text x="76.3" y="918.6" font-size="11.6" text-anchor="start" font-weight="normal" >Days post-conception</text>
<text x="311.0" y="918.6" font-size="11.6" text-anchor="start" font-weight="normal" >Weeks after birth</text>
<text transform="translate(27.4 634.2) scale(0.990 1)" font-size="36.5" font-weight="bold" stroke-width="0">C</text>
<text transform="translate(24.6 803.5) rotate(-90) scale(1 1.06)" font-size="13.7"><tspan font-size="13.2">β / γ + β</tspan><tspan dx="-2.2"> mRNA %</tspan></text>
<line x1="98.6" y1="866.0" x2="98.6" y2="884.0" stroke="#111" stroke-width="1.2"/>
<line x1="107.5" y1="832.0" x2="107.5" y2="856.0" stroke="#111" stroke-width="1.2"/>
<line x1="119.6" y1="776.0" x2="119.6" y2="793.6" stroke="#111" stroke-width="1.2"/>
<line x1="118.8" y1="805.7" x2="118.8" y2="838.0" stroke="#111" stroke-width="1.2"/>
<line x1="119.2" y1="836.0" x2="119.2" y2="850.0" stroke="#111" stroke-width="1.2"/>
<line x1="131.3" y1="758.4" x2="131.3" y2="783.5" stroke="#111" stroke-width="1.2"/>
<line x1="144.7" y1="739.9" x2="144.7" y2="758.4" stroke="#111" stroke-width="1.2"/>
<line x1="155.2" y1="749.0" x2="155.2" y2="783.5" stroke="#111" stroke-width="1.2"/>
<line x1="157.6" y1="714.0" x2="157.6" y2="751.0" stroke="#111" stroke-width="1.2"/>
<line x1="159.6" y1="737.0" x2="159.6" y2="753.0" stroke="#111" stroke-width="1.2"/>
<line x1="183.0" y1="720.9" x2="183.0" y2="753.0" stroke="#111" stroke-width="1.2"/>
<line x1="184.2" y1="703.5" x2="184.2" y2="731.0" stroke="#111" stroke-width="1.2"/>
<line x1="189.5" y1="727.0" x2="189.5" y2="773.4" stroke="#111" stroke-width="1.2"/>
<line x1="232.3" y1="714.8" x2="232.3" y2="733.0" stroke="#111" stroke-width="1.2"/>
<line x1="235.5" y1="668.4" x2="235.5" y2="702.7" stroke="#111" stroke-width="1.2"/>
<line x1="250.0" y1="653.4" x2="250.0" y2="672.4" stroke="#111" stroke-width="1.2"/>
<line x1="321.1" y1="642.7" x2="321.1" y2="655.4" stroke="#111" stroke-width="1.2"/>
<line x1="332.6" y1="641.8" x2="332.6" y2="667.2" stroke="#111" stroke-width="1.2"/>
<line x1="356.3" y1="660.5" x2="356.3" y2="672.3" stroke="#111" stroke-width="1.2"/>
<line x1="385.0" y1="644.8" x2="385.0" y2="661.7" stroke="#111" stroke-width="1.2"/>
<line x1="392.2" y1="642.7" x2="392.2" y2="668.0" stroke="#111" stroke-width="1.2"/>
<line x1="409.6" y1="647.8" x2="409.6" y2="663.0" stroke="#111" stroke-width="1.2"/>
<line x1="455.2" y1="640.6" x2="455.2" y2="667.2" stroke="#111" stroke-width="1.2"/>
<circle cx="83.0" cy="882.0" r="3.4" fill="#111" stroke="#111" stroke-width="1.1"/>
<circle cx="84.6" cy="882.0" r="3.4" fill="#111" stroke="#111" stroke-width="1.1"/>
<circle cx="79.4" cy="882.0" r="3.4" fill="#fff" stroke="#111" stroke-width="1.1"/>
<circle cx="76.2" cy="882.0" r="3.4" fill="#5e5e5e" stroke="#111" stroke-width="1.1"/>
<circle cx="97.6" cy="883.0" r="3.4" fill="#fff" stroke="#111" stroke-width="1.1"/>
<circle cx="94.6" cy="881.6" r="3.4" fill="#5e5e5e" stroke="#111" stroke-width="1.1"/>
<circle cx="87.3" cy="881.7" r="3.4" fill="#fff" stroke="#111" stroke-width="1.1"/>
<circle cx="98.6" cy="874.3" r="3.4" fill="#111" stroke="#111" stroke-width="1.1"/>
<circle cx="99.4" cy="878.4" r="3.4" fill="#fff" stroke="#111" stroke-width="1.1"/>
<circle cx="107.5" cy="844.0" r="3.4" fill="#111" stroke="#111" stroke-width="1.1"/>
<circle cx="119.6" cy="785.1" r="3.4" fill="#111" stroke="#111" stroke-width="1.1"/>
<circle cx="118.8" cy="826.7" r="3.4" fill="#5e5e5e" stroke="#111" stroke-width="1.1"/>
<circle cx="119.2" cy="842.0" r="3.4" fill="#fff" stroke="#111" stroke-width="1.1"/>
<circle cx="131.3" cy="770.5" r="3.4" fill="#111" stroke="#111" stroke-width="1.1"/>
<circle cx="144.7" cy="748.7" r="3.4" fill="#111" stroke="#111" stroke-width="1.1"/>
<circle cx="155.2" cy="764.0" r="3.4" fill="#5e5e5e" stroke="#111" stroke-width="1.1"/>
<circle cx="157.6" cy="732.6" r="3.4" fill="#111" stroke="#111" stroke-width="1.1"/>
<circle cx="159.6" cy="744.3" r="3.4" fill="#fff" stroke="#111" stroke-width="1.1"/>
<circle cx="183.0" cy="737.0" r="3.4" fill="#111" stroke="#111" stroke-width="1.1"/>
<circle cx="184.2" cy="716.4" r="3.4" fill="#5e5e5e" stroke="#111" stroke-width="1.1"/>
<circle cx="189.5" cy="755.6" r="3.4" fill="#fff" stroke="#111" stroke-width="1.1"/>
<circle cx="232.3" cy="723.7" r="3.4" fill="#111" stroke="#111" stroke-width="1.1"/>
<circle cx="235.5" cy="686.5" r="3.4" fill="#fff" stroke="#111" stroke-width="1.1"/>
<circle cx="250.0" cy="661.9" r="3.4" fill="#111" stroke="#111" stroke-width="1.1"/>
<circle cx="321.1" cy="649.0" r="3.4" fill="#5e5e5e" stroke="#111" stroke-width="1.1"/>
<circle cx="332.6" cy="654.1" r="3.4" fill="#111" stroke="#111" stroke-width="1.1"/>
<circle cx="356.3" cy="666.8" r="3.4" fill="#5e5e5e" stroke="#111" stroke-width="1.1"/>
<circle cx="385.0" cy="652.0" r="3.4" fill="#5e5e5e" stroke="#111" stroke-width="1.1"/>
<circle cx="392.2" cy="655.4" r="3.4" fill="#111" stroke="#111" stroke-width="1.1"/>
<circle cx="409.6" cy="655.4" r="3.4" fill="#fff" stroke="#111" stroke-width="1.1"/>
<circle cx="432.8" cy="659.6" r="3.4" fill="#5e5e5e" stroke="#111" stroke-width="1.1"/>
<circle cx="448.9" cy="659.6" r="3.4" fill="#5e5e5e" stroke="#111" stroke-width="1.1"/>
<circle cx="448.9" cy="652.0" r="3.4" fill="#fff" stroke="#111" stroke-width="1.1"/>
<circle cx="455.2" cy="655.4" r="3.4" fill="#111" stroke="#111" stroke-width="1.1"/>
<circle cx="369.2" cy="732.9" r="3.2" fill="#111" stroke="#111" stroke-width="1.1"/>
<circle cx="369.5" cy="752.7" r="3.0" fill="#5a5a5a" stroke="#111" stroke-width="1.1"/>
<circle cx="369.2" cy="770.8" r="3.0" fill="#fff" stroke="#111" stroke-width="1.1"/>
<text x="380.6" y="739.0" font-size="13.5" text-anchor="start" font-weight="normal" >P2</text>
<text x="379.4" y="757.8" font-size="13.5" text-anchor="start" font-weight="normal" >P5</text>
<text x="379.7" y="776.5" font-size="13.5" text-anchor="start" font-weight="normal" >P6</text>
<path d="M401.8 728.3 Q405.2 728.6 405.2 731.7 V741.3" stroke="#111" stroke-width="1.1" fill="none" stroke-linecap="round"/>
<path d="M404.6 746.0 V749.1 Q404.6 751.9 407.5 752.7 Q404.6 753.5 404.6 756.3 V759.8" stroke="#111" stroke-width="1.1" fill="none" stroke-linecap="round"/>
<path d="M405.2 762.9 V773.1 Q405.2 776.2 401.8 776.5" stroke="#111" stroke-width="1.1" fill="none" stroke-linecap="round"/>
<text x="418.2" y="757.1" font-size="11.4" text-anchor="start" font-weight="normal" >HS2</text>
<text x="441.7" y="753.8" font-size="9.9" text-anchor="start" font-weight="normal" >A</text>
<text x="448.8" y="757.1" font-size="12" text-anchor="start" font-weight="normal" >γ</text>
<text x="457.4" y="757.1" font-size="11.4" text-anchor="start" font-weight="normal" >en</text>
<text x="474.3" y="757.1" font-size="11.4" text-anchor="start" font-weight="normal" >β</text>
<path d="M366.4 827.5 C367.4 826.7 370.7 824.5 372.5 822.7 C374.3 820.9 376.3 818.4 377.9 816.0 C379.5 813.6 381.3 809.7 382.6 807.2 C383.9 804.7 384.9 801.8 386.6 799.8 C388.3 797.8 391.7 795.6 392.7 794.8 L408.8 795.1 L408.8 799.8 L397.4 800.1 C396.7 800.6 394.4 801.9 393.4 803.2 C392.4 804.5 391.2 807.7 390.0 809.9 C388.8 812.1 386.6 816.6 385.3 818.6 C384.0 820.6 382.5 822.5 380.6 824.0 C378.7 825.5 376.2 826.8 373.8 827.4 C371.4 828.0 367.6 827.7 366.4 827.8 Z" fill="#8d8d8d"/>
<text x="425.9" y="809.6" font-size="11.2" text-anchor="start" font-weight="normal" >HS2</text>
<text x="452.1" y="806.5" font-size="9.8" text-anchor="start" font-weight="normal" >A</text>
<text x="458.5" y="809.6" font-size="12" text-anchor="start" font-weight="normal" >γ</text>
<text x="466.7" y="809.6" font-size="11.2" text-anchor="start" font-weight="normal" >β</text>
</g>
</svg>
</body></html>
